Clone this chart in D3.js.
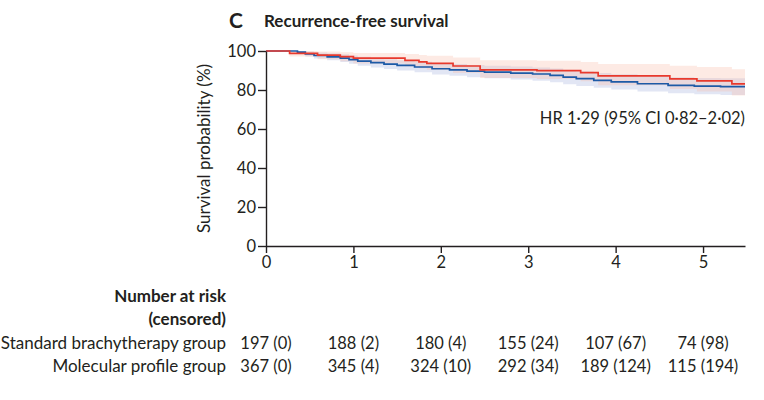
<!DOCTYPE html>
<html>
<head>
<meta charset="utf-8">
<script src="https://cdn.jsdelivr.net/npm/d3@7"></script>
<style>
  body { margin: 0; background: #fff; }
  text { font-family: Lato, "Open Sans", sans-serif; fill: #231f20; }
</style>
</head>
<body>
<div id="chart"></div>
<script>
// Kaplan-Meier steps (years, % surviving)
var redTime = [0, 0.27, 0.59, 0.85, 1.0, 1.59, 1.75, 1.84, 2.14, 2.45, 3.1, 3.6, 3.8, 4.62, 4.93, 5.33];
var redSurv = [100, 98.8, 97.9, 97.1, 96.3, 95.2, 94.4, 93.7, 92.3, 90.3, 89.9, 88.9, 87.2, 85.7, 84.7, 83.1];
var redLo   = [100, 97.2, 95.8, 94.7, 93.6, 92.2, 91.2, 90.4, 88.7, 86.2, 85.7, 84.5, 82.5, 80.5, 79.2, 77.2];
var redHi   = [100, 100, 99.7, 99.4, 99.0, 98.4, 98.0, 97.6, 96.7, 95.3, 95.0, 94.3, 93.3, 92.4, 91.8, 90.6];

var blueTime = [0, 0.36, 0.45, 0.55, 0.7, 0.85, 0.95, 1.05, 1.2, 1.35, 1.5, 1.7, 1.9, 2.1, 2.3, 2.5, 2.8, 3.05, 3.25, 3.4, 3.55, 3.75, 3.95, 4.25, 4.6, 4.9, 5.2];
var blueSurv = [100, 99.4, 98.5, 97.7, 97.0, 96.3, 95.6, 94.8, 94.0, 93.3, 92.6, 91.8, 90.9, 90.3, 89.7, 89.2, 88.7, 88.2, 87.5, 86.6, 85.8, 84.9, 84.2, 83.2, 82.4, 82.0, 81.7];
var blueLo   = [100, 98.6, 97.2, 96.2, 95.2, 94.3, 93.5, 92.5, 91.6, 90.8, 90.0, 89.1, 88.0, 87.3, 86.6, 86.0, 85.4, 84.8, 84.0, 83.0, 82.1, 81.1, 80.3, 79.2, 78.3, 77.8, 77.4];
var blueHi   = [100, 100, 99.7, 99.2, 98.8, 98.3, 97.7, 97.1, 96.4, 95.8, 95.2, 94.5, 93.8, 93.3, 92.8, 92.4, 92.0, 91.6, 91.0, 90.2, 89.5, 88.7, 88.1, 87.2, 86.5, 86.2, 86.0];

var tEnd = 5.48;
var xTicks = [0, 1, 2, 3, 4, 5];
var yTicks = [0, 20, 40, 60, 80, 100];

var groups = ["Standard brachytherapy group", "Molecular profile group"];
var riskStandard = ["197 (0)", "188 (2)", "180 (4)", "155 (24)", "107 (67)", "74 (98)"];
var riskMolecular = ["367 (0)", "345 (4)", "324 (10)", "292 (34)", "189 (124)", "115 (194)"];

var W = 764, H = 400;
var margin = {top: 51, left: 266, right: 19, bottom: 154};
var fs = "16.5px", fsLabel = "17px";

var svg = d3.select("#chart").append("svg")
    .attr("width", W)
    .attr("height", H);

var x = d3.scaleLinear().domain([0, tEnd]).range([margin.left, W - margin.right]);
var y = d3.scaleLinear().domain([0, 100]).range([H - margin.bottom, margin.top]);

function steps(time, s, lo, hi) {
  var d = time.map(function(t, i) { return {t: t, s: s[i], lo: lo[i], hi: hi[i]}; });
  var last = d[d.length - 1];
  d.push({t: tEnd, s: last.s, lo: last.lo, hi: last.hi});
  return d;
}
var red = steps(redTime, redSurv, redLo, redHi);
var blue = steps(blueTime, blueSurv, blueLo, blueHi);

var area = d3.area().curve(d3.curveStepAfter)
    .x(function(d) { return x(d.t); })
    .y0(function(d) { return y(d.lo); })
    .y1(function(d) { return y(d.hi); });

var line = d3.line().curve(d3.curveStepAfter)
    .x(function(d) { return x(d.t); })
    .y(function(d) { return y(d.s); });

// confidence bands
svg.append("path").datum(blue).attr("d", area)
    .attr("fill", "#b7c0e3").attr("fill-opacity", 0.4);
svg.append("path").datum(red).attr("d", area)
    .attr("fill", "#f8b9a4").attr("fill-opacity", 0.3);

// curves
svg.append("path").datum(blue).attr("d", line)
    .attr("fill", "none").attr("stroke", "#1d5aa6").attr("stroke-width", 1.7);
svg.append("path").datum(red).attr("d", line)
    .attr("fill", "none").attr("stroke", "#e8392d").attr("stroke-width", 1.7);

// axes
svg.append("g")
    .attr("transform", "translate(" + margin.left + ",0)")
    .call(d3.axisLeft(y).tickValues(yTicks).tickSize(8).tickSizeOuter(0).tickPadding(2));
svg.append("g")
    .attr("transform", "translate(0," + (H - margin.bottom) + ")")
    .call(d3.axisBottom(x).tickValues(xTicks).tickFormat(d3.format("d"))
      .tickSize(7).tickSizeOuter(0).tickPadding(3));

svg.selectAll(".tick text")
    .attr("font-size", fs)
    .attr("font-family", "Lato, sans-serif")
    .attr("fill", "#231f20");
svg.selectAll(".domain, .tick line")
    .attr("stroke", "#231f20")
    .attr("stroke-width", 1.4);

// titles
svg.append("text")
    .attr("x", 229).attr("y", 28)
    .attr("font-size", "21px").attr("font-weight", "bold")
    .text("C");
svg.append("text")
    .attr("x", 264).attr("y", 27)
    .attr("font-size", "17px").attr("font-weight", "bold")
    .text("Recurrence-free survival");

svg.append("text")
    .attr("transform", "translate(210," + ((margin.top + H - margin.bottom) / 2) + ") rotate(-90)")
    .attr("text-anchor", "middle")
    .attr("font-size", fsLabel)
    .text("Survival probability (%)");

svg.append("text")
    .attr("x", 745).attr("y", 124)
    .attr("text-anchor", "end")
    .attr("font-size", fs)
    .text("HR 1·29 (95% CI 0·82–2·02)");

// number at risk table
svg.append("text")
    .attr("x", 226).attr("y", 302)
    .attr("text-anchor", "end").attr("font-size", fsLabel).attr("font-weight", "bold")
    .text("Number at risk");
svg.append("text")
    .attr("x", 226).attr("y", 325)
    .attr("text-anchor", "end").attr("font-size", fsLabel).attr("font-weight", "bold")
    .text("(censored)");

[riskStandard, riskMolecular].forEach(function(row, r) {
  var yy = 349 + r * 23;
  svg.append("text")
      .attr("x", 226).attr("y", yy)
      .attr("text-anchor", "end").attr("font-size", fsLabel)
      .text(groups[r]);
  svg.selectAll(null).data(row).enter().append("text")
      .attr("x", function(d, i) { return x(xTicks[i]); })
      .attr("y", yy)
      .attr("text-anchor", "middle")
      .attr("font-size", fs)
      .text(function(d) { return d; });
});
</script>
</body>
</html>
